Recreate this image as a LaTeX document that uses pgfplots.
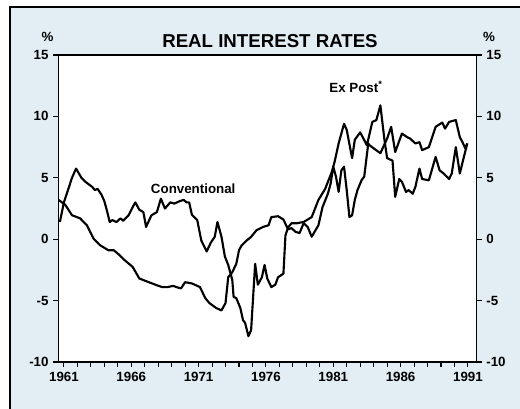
\documentclass[border=0pt]{standalone}
\usepackage{fontspec}
\setmainfont{Liberation Sans}
\usepackage{pgfplots}
\pgfplotsset{compat=1.18}
\definecolor{panel}{RGB}{226,238,244}
\begin{document}
\begin{tikzpicture}
\useasboundingbox (0,0) rectangle (390pt,306.75pt);
\fill[panel] (7.5pt,0) rectangle (390pt,301.5pt);
\draw[line width=0.9pt] (7.5pt,0) -- (7.5pt,301.5pt) -- (390pt,301.5pt);
\begin{axis}[
 at={(43.7pt,35.25pt)}, anchor=south west,
 scale only axis, width=313.8pt, height=230.25pt,
 xmin=1960.58, xmax=1991.65, ymin=-10, ymax=15,
 axis background/.style={fill=white},
 xtick={1961,1966,1971,1976,1981,1986,1991},
 xticklabels={1961,1966,1971,1976,1981,1986,1991},
 minor xtick={1962,1963,1964,1965,1967,1968,1969,1970,1972,1973,1974,1975,1977,1978,1979,1980,1982,1983,1984,1985,1987,1988,1989,1990},
 ytick={-10,-5,0,5,10,15}, yticklabels={-10,-5,0,5,10,15},
 xtick pos=left, ytick pos=left, tick align=outside,
 major tick length=3.75pt, minor tick length=3.75pt,
 tick style={line width=0.8pt, black},
 axis line style={line width=1pt},
 ticklabel style={font=\bfseries\fontsize{10}{12}\selectfont},
]
\addplot[black, line width=1.6pt, line join=round, mark=none] coordinates {
(1960.7,1.4) (1961.0,3.0) (1961.3,4.0) (1961.6,5.0) (1961.9,5.75) (1962.3,5.0) (1962.6,4.67) (1963.1,4.26) (1963.3,4.0) (1963.5,4.1) (1963.8,3.6) (1964.0,3.1) (1964.2,2.3) (1964.4,1.4) (1964.6,1.55) (1964.9,1.4) (1965.2,1.7) (1965.4,1.5) (1965.8,1.95) (1966.1,2.6) (1966.3,3.0) (1966.6,2.4) (1966.9,2.2) (1967.1,1.0) (1967.5,1.95) (1967.9,2.2) (1968.2,3.3) (1968.5,2.5) (1968.9,3.0) (1969.2,2.9) (1969.6,3.1) (1969.9,3.2) (1970.1,3.0) (1970.3,3.0) (1970.5,2.0) (1970.9,1.55) (1971.2,-0.1) (1971.6,-1.0) (1971.9,-0.3) (1972.2,0.2) (1972.4,1.4) (1972.7,0.2) (1972.95,-1.4) (1973.2,-2.1) (1973.5,-3.3) (1973.6,-4.7) (1973.8,-4.8) (1974.1,-5.6) (1974.3,-6.6) (1974.45,-6.8) (1974.7,-7.9) (1974.9,-7.4) (1975.2,-2.0) (1975.4,-3.7) (1975.7,-3.1) (1975.9,-2.1) (1976.1,-3.2) (1976.4,-3.9) (1976.7,-3.7) (1976.9,-3.1) (1977.3,-2.8) (1977.45,0.3) (1977.6,0.8) (1977.9,0.9) (1978.2,0.6) (1978.5,0.5) (1978.8,1.3) (1979.1,1.0) (1979.4,0.2) (1979.9,1.14) (1980.2,2.6) (1980.6,3.7) (1980.8,4.5) (1981.0,5.9) (1981.2,5.1) (1981.4,3.85) (1981.6,5.6) (1981.8,5.9) (1982.0,4.0) (1982.2,1.8) (1982.4,1.95) (1982.6,3.2) (1982.8,4.0) (1983.1,4.8) (1983.3,5.1) (1983.6,7.8) (1983.7,7.65) (1984.0,7.4) (1984.5,7.0) (1985.0,8.2) (1985.3,9.15) (1985.6,7.1) (1986.1,8.6) (1986.5,8.3) (1986.7,8.2) (1987.1,7.8) (1987.4,7.9) (1987.6,7.25) (1988.1,7.5) (1988.6,9.15) (1989.1,9.5) (1989.3,9.0) (1989.6,9.55) (1990.1,9.7) (1990.4,8.3) (1990.6,7.9) (1990.8,7.4) (1990.95,7.8)
};
\addplot[black, line width=1.6pt, line join=round, mark=none] coordinates {
(1960.6,3.2) (1961.1,2.8) (1961.6,1.95) (1962.2,1.7) (1962.7,1.14) (1963.2,0.05) (1963.7,-0.5) (1964.3,-0.9) (1964.7,-0.9) (1965.0,-1.17) (1965.5,-1.7) (1966.1,-2.25) (1966.6,-3.2) (1967.3,-3.5) (1967.9,-3.75) (1968.3,-3.9) (1968.7,-3.9) (1969.1,-3.8) (1969.5,-3.95) (1969.7,-4.0) (1970.0,-3.5) (1970.5,-3.6) (1971.1,-3.9) (1971.5,-4.8) (1971.8,-5.2) (1972.3,-5.6) (1972.7,-5.8) (1973.0,-5.2) (1973.2,-3.1) (1973.5,-2.7) (1973.8,-2.0) (1974.0,-0.9) (1974.2,-0.5) (1974.6,-0.08) (1974.9,0.19) (1975.3,0.73) (1975.8,1.0) (1976.2,1.14) (1976.4,1.8) (1976.9,1.87) (1977.3,1.6) (1977.6,0.9) (1977.9,1.3) (1978.3,1.3) (1978.8,1.4) (1979.4,1.8) (1979.9,3.2) (1980.4,4.1) (1980.9,5.5) (1981.1,6.3) (1981.4,7.8) (1981.8,9.4) (1982.0,8.9) (1982.4,6.6) (1982.6,8.1) (1983.0,8.7) (1983.5,7.65) (1983.9,9.55) (1984.2,9.7) (1984.4,10.5) (1984.5,10.9) (1984.8,8.1) (1985.0,6.6) (1985.4,6.4) (1985.6,3.45) (1985.9,4.9) (1986.1,4.67) (1986.4,3.85) (1986.6,4.0) (1986.9,3.7) (1987.1,4.26) (1987.4,5.75) (1987.6,4.9) (1988.1,4.8) (1988.6,6.7) (1988.9,5.6) (1989.2,5.35) (1989.6,4.9) (1989.8,5.35) (1990.1,7.5) (1990.4,5.35) (1990.7,6.7) (1990.95,7.8)
};
\node[anchor=base, font=\bfseries\fontsize{10}{12}\selectfont] at (axis cs:1970.6,3.75) {Conventional};
\node[anchor=base, font=\bfseries\fontsize{10}{12}\selectfont] at (axis cs:1982.69,11.97) {Ex Post\textsuperscript{*}};
\end{axis}
\begin{axis}[
 at={(43.7pt,35.25pt)}, anchor=south west,
 scale only axis, width=313.8pt, height=230.25pt,
 xmin=1960.58, xmax=1991.65, ymin=-10, ymax=15,
 axis x line=none, axis y line*=right,
 ytick={-10,-5,0,5,10,15}, yticklabels={-10,-5,0,5,10,15},
 tick align=outside, major tick length=3.75pt,
 tick style={line width=0.8pt, black},
 axis line style={line width=1pt, -},
 ticklabel style={font=\bfseries\fontsize{10}{12}\selectfont},
]
\end{axis}
\node[anchor=base, font=\bfseries\fontsize{14}{17}\selectfont] at (202.5pt,270.75pt) {REAL INTEREST RATES};
\node[anchor=base, font=\bfseries\fontsize{10}{12}\selectfont] at (35.6pt,275.25pt) {\%};
\node[anchor=base, font=\bfseries\fontsize{10}{12}\selectfont] at (366.75pt,275.25pt) {\%};
\end{tikzpicture}
\end{document}
